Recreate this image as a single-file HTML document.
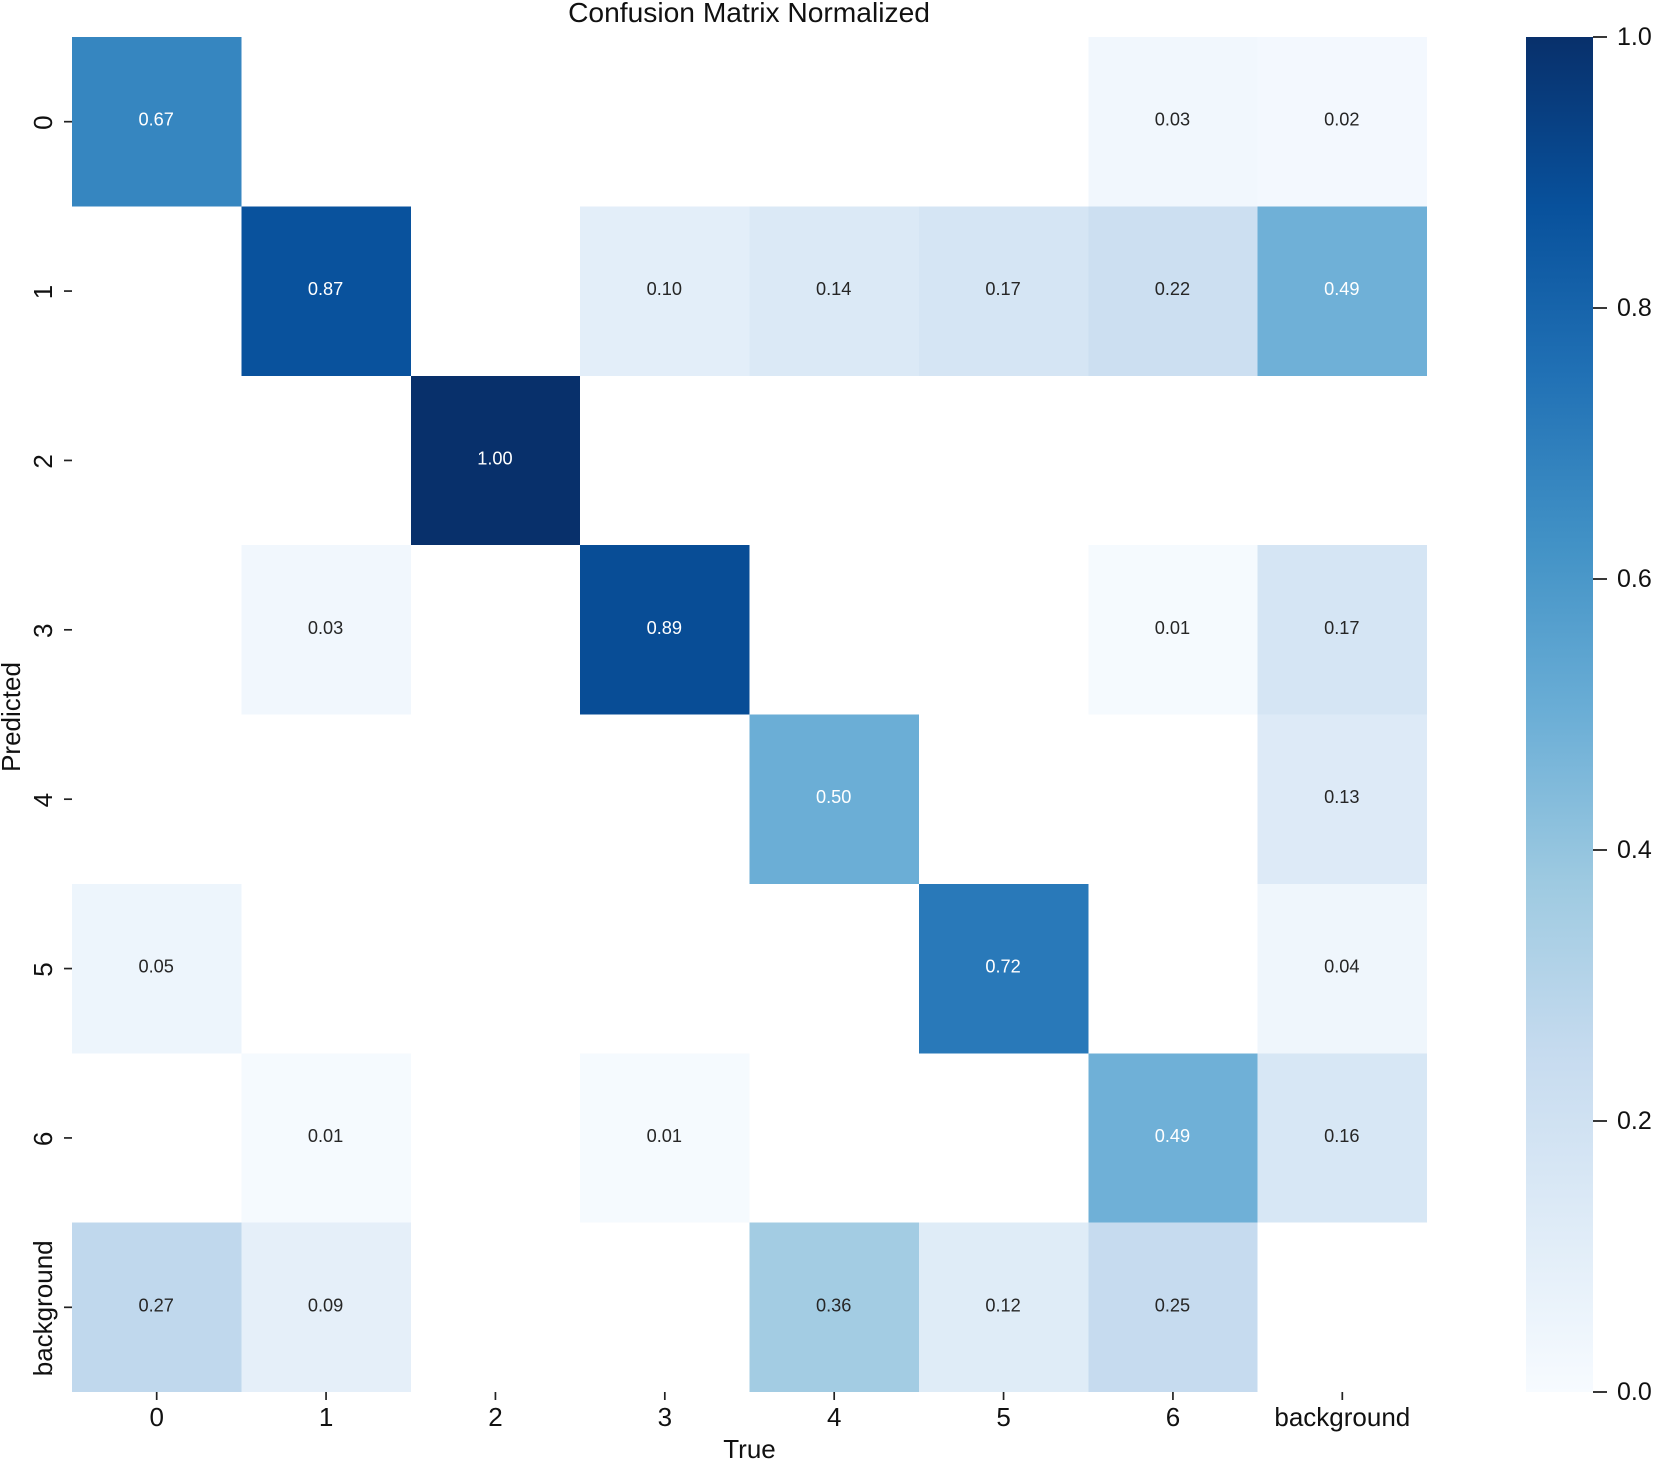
<!DOCTYPE html>
<html lang="en">
<head>
<meta charset="utf-8">
<title>Confusion Matrix Normalized</title>
<style>
html,body{margin:0;padding:0;background:#fff;width:1654px;height:1466px;overflow:hidden}
svg{display:block;font-family:"Liberation Sans",Arial,sans-serif}
</style>
</head>
<body>
<svg id="chart" width="1654" height="1466" viewBox="0 0 1654 1466" xmlns="http://www.w3.org/2000/svg">
  <defs>
    <linearGradient id="cbar-gradient" x1="0" y1="1" x2="0" y2="0"></linearGradient>
  </defs>
  <text x="749" y="22" font-size="28.2" text-anchor="middle" fill="#111">Confusion Matrix Normalized</text>
  <text x="749.5" y="1458" font-size="26" text-anchor="middle" fill="#111">True</text>
  <text transform="translate(20,717) rotate(-90)" font-size="26" text-anchor="middle" fill="#111">Predicted</text>
  <g id="cells"></g>
  <g id="axes"></g>
  <g id="colorbar"></g>
</svg>
<script>
const categories = ['0', '1', '2', '3', '4', '5', '6', 'background'];
const row0 = [0.67, null, null, null, null, null, 0.03, 0.02];
const row1 = [null, 0.87, null, 0.10, 0.14, 0.17, 0.22, 0.49];
const row2 = [null, null, 1.00, null, null, null, null, null];
const row3 = [null, 0.03, null, 0.89, null, null, 0.01, 0.17];
const row4 = [null, null, null, null, 0.50, null, null, 0.13];
const row5 = [0.05, null, null, null, null, 0.72, null, 0.04];
const row6 = [null, 0.01, null, 0.01, null, null, 0.49, 0.16];
const row7 = [0.27, 0.09, null, null, 0.36, 0.12, 0.25, null];
const matrix = [row0, row1, row2, row3, row4, row5, row6, row7];
const colorbarTicks = [0.0, 0.2, 0.4, 0.6, 0.8, 1.0];
const blues = ['#f7fbff', '#deebf7', '#c6dbef', '#9ecae1', '#6baed6', '#4292c6', '#2171b5', '#08519c', '#08306b'];

const NS = 'http://www.w3.org/2000/svg';
const plot = { left: 72, right: 1427, top: 37, bottom: 1392 };
const bar = { left: 1526, right: 1593 };
const textDark = '#262626';
const textLight = '#ffffff';
const lightThreshold = 0.45;

function xScale(i) { return plot.left + (plot.right - plot.left) * i / categories.length; }
function yScale(i) { return plot.top + (plot.bottom - plot.top) * i / categories.length; }
function cbarScale(v) { return plot.bottom - (plot.bottom - plot.top) * v; }
function hexToRgb(h) { return [1, 3, 5].map(function (p) { return parseInt(h.substr(p, 2), 16); }); }
function colorFor(v) {
  const t = Math.max(0, Math.min(1, v)) * (blues.length - 1);
  const i = Math.min(Math.floor(t), blues.length - 2);
  const a = hexToRgb(blues[i]);
  const b = hexToRgb(blues[i + 1]);
  const f = t - i;
  return 'rgb(' + a.map(function (c, k) { return Math.round(c + (b[k] - c) * f); }).join(',') + ')';
}
function make(tag, attrs, parent, content) {
  const el = document.createElementNS(NS, tag);
  Object.keys(attrs).forEach(function (k) { el.setAttribute(k, attrs[k]); });
  if (content !== undefined) el.textContent = content;
  parent.appendChild(el);
  return el;
}

const cellsGroup = document.getElementById('cells');
const axesGroup = document.getElementById('axes');
const barGroup = document.getElementById('colorbar');
const gradient = document.getElementById('cbar-gradient');

matrix.forEach(function (row, r) {
  row.forEach(function (value, c) {
    if (value === null) return;
    const x0 = xScale(c), x1 = xScale(c + 1), y0 = yScale(r), y1 = yScale(r + 1);
    const rect = make('rect', { x: x0, y: y0, width: x1 - x0, height: y1 - y0, fill: colorFor(value), 'shape-rendering': 'crispEdges' }, cellsGroup);
    
    
    const label = make('text', {
      x: (x0 + x1) / 2 - 0.5,
      y: (y0 + y1) / 2 + 4,
      'font-size': 18.2,
      'text-anchor': 'middle',
      fill: value >= lightThreshold ? textLight : textDark
    }, cellsGroup, value.toFixed(2));
    
    
  });
});

categories.forEach(function (name, i) {
  const cx = (xScale(i) + xScale(i + 1)) / 2;
  const cy = (yScale(i) + yScale(i + 1)) / 2;

  const xTick = make('line', { x1: cx, x2: cx, y1: plot.bottom, y2: plot.bottom + 8, stroke: '#222', 'stroke-width': 1.7 }, axesGroup);
  
  
  const xLabel = make('text', { x: cx, y: 1426, 'font-size': 26, 'text-anchor': 'middle', fill: '#111' }, axesGroup, name);
  
  

  const yTick = make('line', { x1: plot.left - 8, x2: plot.left, y1: cy, y2: cy, stroke: '#222', 'stroke-width': 1.7 }, axesGroup);
  
  
  const yLabel = make('text', { transform: 'translate(52,' + (cy + 1) + ') rotate(-90)', 'font-size': 26, 'text-anchor': 'middle', fill: '#111' }, axesGroup, name);
  
  
});

blues.forEach(function (color, i) {
  make('stop', { offset: i / (blues.length - 1), 'stop-color': color }, gradient);
});
const barRect = make('rect', { x: bar.left, y: plot.top, width: bar.right - bar.left, height: plot.bottom - plot.top, fill: 'url(#cbar-gradient)', 'shape-rendering': 'crispEdges' }, barGroup);



colorbarTicks.forEach(function (v) {
  const y = cbarScale(v);
  const tick = make('line', { x1: bar.right, x2: bar.right + 14, y1: y, y2: y, stroke: '#222', 'stroke-width': 1.8 }, barGroup);
  
  
  const label = make('text', { x: 1617, y: y + 8, 'font-size': 25, fill: '#111' }, barGroup, v.toFixed(1));
  
  
});
</script>
</body>
</html>
